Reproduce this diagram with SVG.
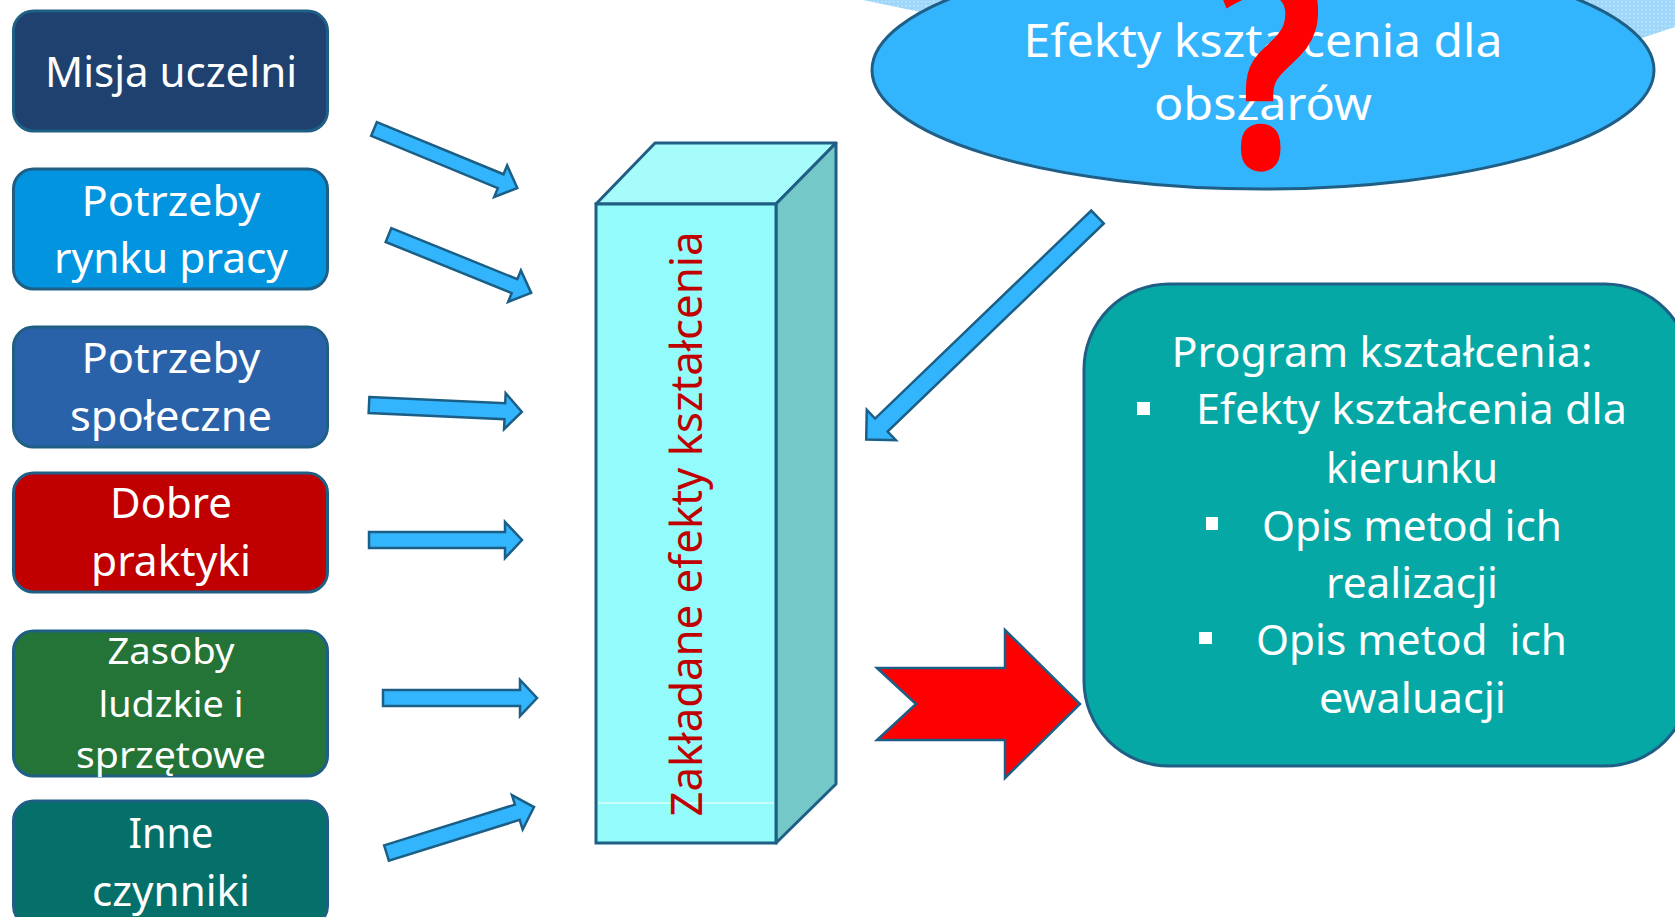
<svg xmlns="http://www.w3.org/2000/svg" width="1675" height="917" viewBox="0 0 1675 917">
<defs>
<pattern id="dots" width="4" height="4" patternUnits="userSpaceOnUse">
<rect width="4" height="4" fill="#9fd6f9"/>
<rect x="1" y="1" width="1.5" height="1.5" fill="#c4e6fc"/>
</pattern>
<style>
.box{stroke:#1f5f86;stroke-width:3}
.lbl{font-family:"Noto Sans","Open Sans",sans-serif;fill:#ffffff;text-anchor:middle}
.arr{fill:#33b5fd;stroke:#1c5f86;stroke-width:2.5;stroke-linejoin:miter}
</style>
</defs>
<rect width="1675" height="917" fill="#ffffff"/>

<g id="background-band">
<path d="M863,0 L925,13 L1250,60 L1642,38 L1675,27 L1675,0 Z" fill="url(#dots)"/>
</g>

<g id="node-efekty-obszarow">
<ellipse cx="1263" cy="70" rx="391" ry="119" fill="#33b5fe" class="box"/>
<text class="lbl" x="1263" y="57" font-size="45" textLength="479" lengthAdjust="spacingAndGlyphs">Efekty kształcenia dla</text>
<text class="lbl" x="1263" y="120" font-size="45" textLength="218" lengthAdjust="spacingAndGlyphs">obszarów</text>
<text transform="translate(1268,168) scale(0.92,1.15)" x="0" y="0" font-family="Noto Sans, sans-serif" font-weight="bold" font-size="250" fill="#ff0000" text-anchor="middle">?</text>
</g>

<g id="node-misja">
<rect x="13.5" y="11" width="314" height="120" rx="20" fill="#1e416f" class="box"/>
<text class="lbl" x="171" y="87" font-size="42" textLength="252" lengthAdjust="spacingAndGlyphs">Misja uczelni</text>
</g>

<g id="node-rynek">
<rect x="13.5" y="169" width="314" height="120" rx="20" fill="#0394df" class="box"/>
<text class="lbl" x="171" y="216" font-size="42" textLength="179" lengthAdjust="spacingAndGlyphs">Potrzeby</text>
<text class="lbl" x="171" y="273" font-size="42" textLength="234" lengthAdjust="spacingAndGlyphs">rynku pracy</text>
</g>

<g id="node-spoleczne">
<rect x="13.5" y="327" width="314" height="120" rx="20" fill="#2a62aa" class="box"/>
<text class="lbl" x="171" y="373" font-size="42" textLength="179" lengthAdjust="spacingAndGlyphs">Potrzeby</text>
<text class="lbl" x="171" y="431" font-size="42" textLength="202" lengthAdjust="spacingAndGlyphs">społeczne</text>
</g>

<g id="node-dobre">
<rect x="13.5" y="473" width="314" height="119" rx="20" fill="#c00000" class="box"/>
<text class="lbl" x="171" y="518" font-size="42" textLength="122" lengthAdjust="spacingAndGlyphs">Dobre</text>
<text class="lbl" x="171" y="576" font-size="42" textLength="160" lengthAdjust="spacingAndGlyphs">praktyki</text>
</g>

<g id="node-zasoby">
<rect x="13.5" y="631" width="314" height="145" rx="20" fill="#247437" class="box"/>
<text class="lbl" x="171" y="664" font-size="37" textLength="127" lengthAdjust="spacingAndGlyphs">Zasoby</text>
<text class="lbl" x="171" y="717" font-size="37" textLength="145" lengthAdjust="spacingAndGlyphs">ludzkie i</text>
<text class="lbl" x="171" y="768" font-size="37" textLength="190" lengthAdjust="spacingAndGlyphs">sprzętowe</text>
</g>

<g id="node-inne">
<rect x="13.5" y="801" width="314" height="125" rx="20" fill="#05706a" class="box"/>
<text class="lbl" x="171" y="848" font-size="42" textLength="85" lengthAdjust="spacingAndGlyphs">Inne</text>
<text class="lbl" x="171" y="906" font-size="42" textLength="158" lengthAdjust="spacingAndGlyphs">czynniki</text>
</g>

<g id="node-zakladane">
<polygon points="596,204 655,143 836,143 776,204" fill="#a6fcfa" class="box" stroke-linejoin="round"/>
<polygon points="776,204 836,143 836,784 776,843" fill="#74c8c7" class="box" stroke-linejoin="round"/>
<rect x="596" y="204" width="180" height="639" fill="#93fbf9" class="box"/>
<line x1="598" y1="803" x2="774" y2="803" stroke="#ffffff" stroke-width="1"/>
<text transform="translate(702,524) rotate(-90)" x="0" y="0" font-family="Noto Sans, sans-serif" font-size="44" fill="#c00000" text-anchor="middle" textLength="585" lengthAdjust="spacingAndGlyphs">Zakładane efekty kształcenia</text>
</g>

<g id="node-program">
<rect x="1084" y="284" width="606" height="482" rx="85" fill="#05a8a5" class="box"/>
<text class="lbl" x="1382" y="367" font-size="41" textLength="421" lengthAdjust="spacingAndGlyphs">Program kształcenia:</text>
<rect x="1137" y="402" width="13" height="13" fill="#ffffff"/>
<text class="lbl" x="1411.5" y="424" font-size="41" textLength="431" lengthAdjust="spacingAndGlyphs">Efekty kształcenia dla</text>
<text class="lbl" x="1412" y="483" font-size="41" textLength="172" lengthAdjust="spacingAndGlyphs">kierunku</text>
<rect x="1206" y="517" width="12" height="13" fill="#ffffff"/>
<text class="lbl" x="1412" y="541" font-size="41" textLength="300" lengthAdjust="spacingAndGlyphs">Opis metod ich</text>
<text class="lbl" x="1412" y="598" font-size="41" textLength="172" lengthAdjust="spacingAndGlyphs">realizacji</text>
<rect x="1199" y="632" width="13" height="12" fill="#ffffff"/>
<text class="lbl" x="1411.5" y="655" font-size="41" textLength="311" lengthAdjust="spacingAndGlyphs" xml:space="preserve">Opis metod  ich</text>
<text class="lbl" x="1412.5" y="713" font-size="41" textLength="187" lengthAdjust="spacingAndGlyphs">ewaluacji</text>
</g>

<g id="connectors">
<path class="arr" transform="translate(374,129) rotate(22.4)" d="M0,-7.5 H137 V-17 L155,0 L137,17 V7.5 H0 Z"/>
<path class="arr" transform="translate(388.5,235) rotate(22.1)" d="M0,-7.5 H136 V-17 L154,0 L136,17 V7.5 H0 Z"/>
<path class="arr" transform="translate(369,405) rotate(2.6)" d="M0,-8 H136 V-18 L153,0 L136,18 V8 H0 Z"/>
<path class="arr" transform="translate(369,540)" d="M0,-8 H136 V-18 L153,0 L136,18 V8 H0 Z"/>
<path class="arr" transform="translate(383,698)" d="M0,-8 H137 V-18 L154,0 L137,18 V8 H0 Z"/>
<path class="arr" transform="translate(386.5,853) rotate(-17.3)" d="M0,-8 H137 V-18 L154.5,0 L137,18 V8 H0 Z"/>
<path class="arr" transform="translate(1097.5,217) rotate(136.1)" d="M0,-9 H300 V-21 L321,0 L300,21 V9 H0 Z"/>
<polygon points="877,668 916,704 877,740 1005,740 1005,778 1080,704 1005,630 1005,668" fill="#ff0000" stroke="#1c5f86" stroke-width="2.5"/>
</g>
</svg>
